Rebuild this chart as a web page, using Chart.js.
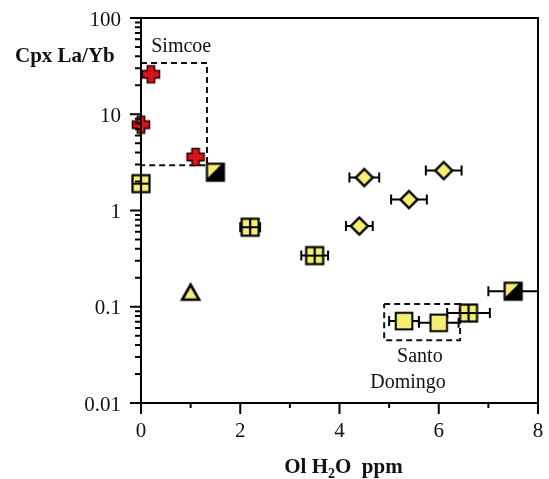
<!DOCTYPE html>
<html>
<head>
<meta charset="utf-8">
<script src="https://cdn.jsdelivr.net/npm/chart.js@4/dist/chart.umd.min.js"></script>
<style>
  body { margin: 0; background: #fff; }
  canvas { display: block; }
</style>
</head>
<body>
<canvas id="laybChart" width="549" height="479"></canvas>
<script>
// Data (x = Ol H2O ppm, y = Cpx La/Yb)
const simcoeX = [0.2, 0, 1.1];
const simcoeY = [26, 7.8, 3.6];

const gridSqX = [0, 2.2, 3.5, 6.6];
const gridSqY = [1.9, 0.67, 0.34, 0.086];
const gridSqErr = [0, 0.2, 0.27, 0.43];

const halfSqX = [1.5, 7.5];
const halfSqY = [2.5, 0.145];
const halfSqErr = [0, 0.5];

const diamondX = [4.5, 4.4, 6.1, 5.4];
const diamondY = [2.2, 0.69, 2.6, 1.3];
const diamondErr = [0.3, 0.27, 0.36, 0.36];

const triangleX = [1.0];
const triangleY = [0.14];

const santoX = [5.3, 6.0];
const santoY = [0.071, 0.068];
const santoErr = [0.3, 0.4];

// dashed outline boxes
const simcoeBoxX = [0, 1.33, 1.33, 0];
const simcoeBoxY = [34, 34, 2.95, 2.95];
const santoBoxX = [4.9, 6.43, 6.43, 4.9, 4.9];
const santoBoxY = [0.107, 0.107, 0.045, 0.045, 0.107];

const xTickValues = [0, 2, 4, 6, 8];
const xTickLabels = ['0', '2', '4', '6', '8'];
const yTickValues = [0.01, 0.1, 1, 10, 100];
const yTickLabels = ['0.01', '0.1', '1', '10', '100'];

const YELLOW = '#f4ef74';
const RED = '#d8141c';
const SERIF = '"Liberation Serif", "DejaVu Serif", serif';

function pts(xs, ys) {
    return xs.map((x, i) => ({ x: x, y: ys[i] }));
}

// marker images
function makeMarker(draw) {
    const c = document.createElement('canvas');
    c.width = 26; c.height = 26;
    const g = c.getContext('2d');
    g.translate(13, 13);
    g.lineJoin = 'miter';
    draw(g);
    return c;
}

const crossImg = makeMarker(g => {
    const a = 3.6, b = 8.5;
    g.beginPath();
    g.moveTo(-a, -b); g.lineTo(a, -b); g.lineTo(a, -a); g.lineTo(b, -a);
    g.lineTo(b, a); g.lineTo(a, a); g.lineTo(a, b); g.lineTo(-a, b);
    g.lineTo(-a, a); g.lineTo(-b, a); g.lineTo(-b, -a); g.lineTo(-a, -a);
    g.closePath();
    g.fillStyle = RED; g.fill();
    g.lineWidth = 1.6; g.strokeStyle = '#300'; g.stroke();
});

const gridSqImg = makeMarker(g => {
    const h = 8.5;
    g.fillStyle = YELLOW; g.fillRect(-h, -h, 2 * h, 2 * h);
    g.lineWidth = 2.2; g.strokeStyle = '#000';
    g.strokeRect(-h, -h, 2 * h, 2 * h);
    g.beginPath();
    g.moveTo(0, -h); g.lineTo(0, h); g.moveTo(-h, 0); g.lineTo(h, 0);
    g.stroke();
});

const halfSqImg = makeMarker(g => {
    const h = 8.5;
    g.fillStyle = '#000'; g.fillRect(-h, -h, 2 * h, 2 * h);
    g.beginPath();
    g.moveTo(-h, -h); g.lineTo(h - 2, -h); g.lineTo(-h, h - 2); g.closePath();
    g.fillStyle = YELLOW; g.fill();
    g.lineWidth = 2.2; g.strokeStyle = '#000';
    g.strokeRect(-h, -h, 2 * h, 2 * h);
});

const diamondImg = makeMarker(g => {
    g.beginPath();
    g.moveTo(0, -8.5); g.lineTo(8.5, 0); g.lineTo(0, 8.5); g.lineTo(-8.5, 0);
    g.closePath();
    g.fillStyle = YELLOW; g.fill();
    g.lineWidth = 2.4; g.strokeStyle = '#000'; g.stroke();
});

const triangleImg = makeMarker(g => {
    g.beginPath();
    g.moveTo(0, -8); g.lineTo(8.5, 7); g.lineTo(-8.5, 7);
    g.closePath();
    g.fillStyle = YELLOW; g.fill();
    g.lineWidth = 2.6; g.strokeStyle = '#000'; g.stroke();
});

const squareImg = makeMarker(g => {
    const h = 8.3;
    g.fillStyle = YELLOW; g.fillRect(-h, -h, 2 * h, 2 * h);
    g.lineWidth = 2; g.strokeStyle = '#000';
    g.strokeRect(-h, -h, 2 * h, 2 * h);
});

function markerSet(label, xs, ys, img, err) {
    return {
        label: label,
        data: pts(xs, ys),
        pointStyle: img,
        pointRadius: 10,
        xErr: err || null,
        showLine: false,
        clip: false
    };
}

function boxSet(label, xs, ys) {
    return {
        label: label,
        type: 'line',
        data: pts(xs, ys),
        borderColor: '#111',
        borderWidth: 2,
        borderDash: [6, 4],
        pointRadius: 0,
        fill: false,
        tension: 0,
        clip: false
    };
}

// horizontal error bars, frame, ticks, tick labels and titles
const decorPlugin = {
    id: 'decor',
    beforeDatasetsDraw(chart) {
        const ctx = chart.ctx;
        const xs = chart.scales.x, ys = chart.scales.y;
        ctx.save();
        ctx.strokeStyle = '#000';
        ctx.lineWidth = 2;
        chart.data.datasets.forEach(ds => {
            if (!ds.xErr) return;
            ds.data.forEach((p, i) => {
                const e = ds.xErr[i];
                if (!e) return;
                const x0 = xs.getPixelForValue(p.x - e);
                const x1 = xs.getPixelForValue(p.x + e);
                const y = ys.getPixelForValue(p.y);
                ctx.beginPath();
                ctx.moveTo(x0, y); ctx.lineTo(x1, y);
                ctx.moveTo(x0, y - 5); ctx.lineTo(x0, y + 5);
                ctx.moveTo(x1, y - 5); ctx.lineTo(x1, y + 5);
                ctx.stroke();
            });
        });
        ctx.restore();
    },
    afterDraw(chart) {
        const ctx = chart.ctx;
        const a = chart.chartArea;
        const xs = chart.scales.x, ys = chart.scales.y;
        ctx.save();
        ctx.strokeStyle = '#000';
        ctx.lineWidth = 2;
        ctx.strokeRect(a.left, a.top, a.right - a.left, a.bottom - a.top);

        // y ticks: majors at powers of ten, minors at 2..9
        ctx.beginPath();
        yTickValues.forEach((v, k) => {
            const yp = ys.getPixelForValue(v);
            ctx.moveTo(a.left - 11, yp); ctx.lineTo(a.left, yp);
            if (k === yTickValues.length - 1) return;
            for (let m = 2; m <= 9; m++) {
                const ym = ys.getPixelForValue(m * v);
                ctx.moveTo(a.left - 6, ym); ctx.lineTo(a.left, ym);
            }
        });
        // x ticks
        for (let v = 0; v <= 8; v++) {
            const xp = xs.getPixelForValue(v);
            ctx.moveTo(xp, a.bottom);
            ctx.lineTo(xp, a.bottom + (v % 2 === 0 ? 11 : 5));
        }
        ctx.stroke();

        ctx.fillStyle = '#111';
        ctx.font = '21px ' + SERIF;
        ctx.textAlign = 'right';
        ctx.textBaseline = 'middle';
        yTickValues.forEach((v, k) => {
            ctx.fillText(yTickLabels[k], a.left - 20, ys.getPixelForValue(v) + 2);
        });
        ctx.textAlign = 'center';
        ctx.textBaseline = 'alphabetic';
        xTickValues.forEach((v, k) => {
            ctx.fillText(xTickLabels[k], xs.getPixelForValue(v), a.bottom + 34);
        });

        // text annotations
        ctx.textBaseline = 'middle';
        ctx.font = '20px ' + SERIF;
        ctx.fillText('Simcoe', xs.getPixelForValue(0.81), ys.getPixelForValue(50));
        ctx.fillText('Santo', xs.getPixelForValue(5.62), ys.getPixelForValue(0.030));
        ctx.fillText('Domingo', xs.getPixelForValue(5.38), ys.getPixelForValue(0.0161));

        // y title
        ctx.textAlign = 'left';
        ctx.textBaseline = 'alphabetic';
        ctx.font = 'bold 21px ' + SERIF;
        ctx.fillText('Cpx La/Yb', 15, 62);

        // x title with subscript
        const parts = [['Ol H', 21, 0], ['2', 14, 5], ['O  ppm', 21, 0]];
        let total = 0;
        parts.forEach(p => {
            ctx.font = 'bold ' + p[1] + 'px ' + SERIF;
            total += ctx.measureText(p[0]).width;
        });
        let x = (a.left + a.right) / 2 - total / 2 + 4;
        parts.forEach(p => {
            ctx.font = 'bold ' + p[1] + 'px ' + SERIF;
            ctx.fillText(p[0], x, 473 + p[2]);
            x += ctx.measureText(p[0]).width;
        });
        ctx.restore();
    }
};

const ctx = document.getElementById('laybChart');
new Chart(ctx, {
    type: 'scatter',
    data: {
        datasets: [
            markerSet('Simcoe', simcoeX, simcoeY, crossImg),
            markerSet('grid squares', gridSqX, gridSqY, gridSqImg, gridSqErr),
            markerSet('half squares', halfSqX, halfSqY, halfSqImg, halfSqErr),
            markerSet('diamonds', diamondX, diamondY, diamondImg, diamondErr),
            markerSet('triangle', triangleX, triangleY, triangleImg),
            markerSet('Santo Domingo', santoX, santoY, squareImg, santoErr),
            boxSet('Simcoe box', simcoeBoxX, simcoeBoxY),
            boxSet('Santo Domingo box', santoBoxX, santoBoxY)
        ]
    },
    options: {
        responsive: false,
        animation: false,
        devicePixelRatio: 1,
        layout: { padding: { top: 18, right: 11, left: 0, bottom: 0 } },
        plugins: {
            legend: { display: false },
            tooltip: { enabled: false }
        },
        scales: {
            x: {
                type: 'linear',
                min: 0,
                max: 8,
                grid: { display: false, drawTicks: false, tickLength: 0 },
                border: { display: false },
                ticks: { display: false },
                afterFit: (s) => { s.height = 76; }
            },
            y: {
                type: 'logarithmic',
                min: 0.01,
                max: 100,
                grid: { display: false, drawTicks: false, tickLength: 0 },
                border: { display: false },
                ticks: { display: false },
                afterFit: (s) => { s.width = 141; }
            }
        }
    },
    plugins: [decorPlugin]
});
</script>
</body>
</html>
